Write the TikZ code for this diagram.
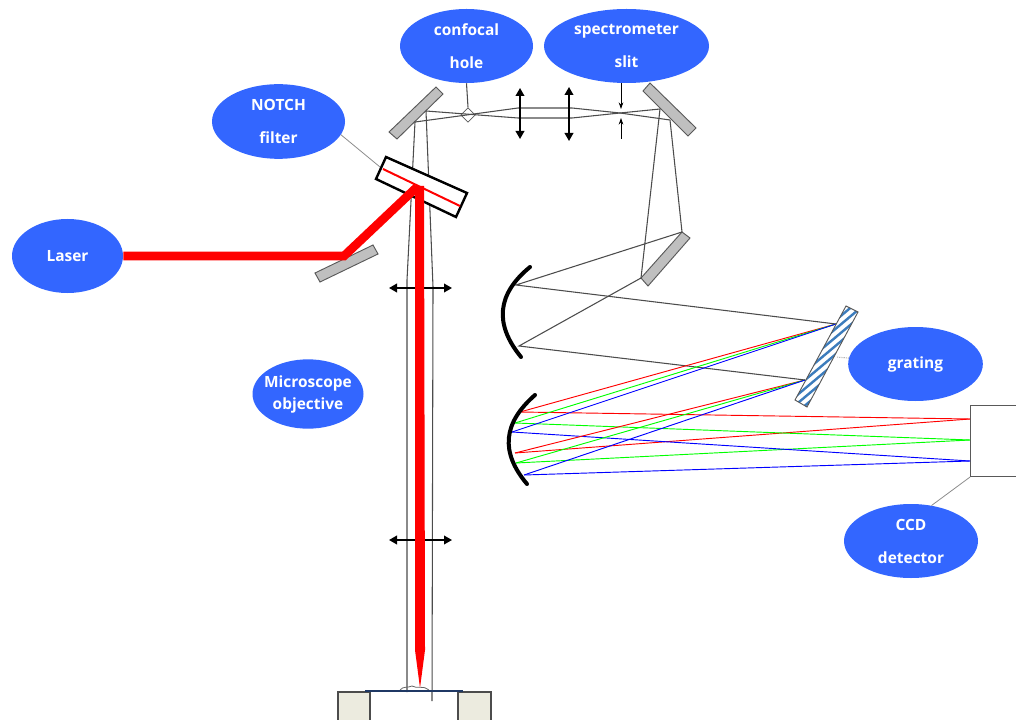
\documentclass[tikz,border=0pt]{standalone}
\usepackage{fontspec}
\setmainfont{Open Sans}
\usepackage{tikz}
\usetikzlibrary{arrows.meta,shapes.geometric}
\definecolor{tagblue}{HTML}{3366FF}
\definecolor{mirrorgray}{HTML}{BFBFBF}
\definecolor{stagebeige}{HTML}{ECEBDF}
\definecolor{slidenavy}{HTML}{1F3864}
\definecolor{gratingblue}{HTML}{3C7CBC}
\tikzset{
	tag/.style={ellipse,fill=tagblue,text=white,inner sep=0pt,align=center,font=\fontsize{11.6}{12}\bfseries},
	ray/.style={black!70,line width=0.8pt},
	leader/.style={black!45,line width=0.6pt},
	mirror/.style={draw=black!65,fill=mirrorgray,line width=0.7pt},
	lens/.style={{Triangle[length=6pt,width=6.5pt]}-{Triangle[length=6pt,width=6.5pt]},line width=1.2pt},
	slitarrow/.style={-{Stealth[length=5pt,width=3.5pt]},line width=0.6pt},
	beam/.style={red,line width=6.5pt},
	concave/.style={black,line width=3pt,line cap=round}
}
\begin{document}
\begin{tikzpicture}[x=0.75pt,y=-0.75pt]
	\useasboundingbox (0,0) rectangle (1016,720);
	\coordinate (mla) at (426,111);
	\coordinate (mlb) at (415,122);
	\coordinate (mra) at (660,109);
	\coordinate (mrb) at (670,120);
	\coordinate (foldt) at (682,232);
	\coordinate (foldb) at (641,278);
	\coordinate (colt) at (516,285);
	\coordinate (colb) at (519,346);
	\coordinate (grt) at (836,324);
	\coordinate (grb) at (805,380);
	\coordinate (lobl) at (407,280);
	\coordinate (lobr) at (433,287);
	\coordinate (sampl) at (407,692);
	\coordinate (sampr) at (432,701);
	\coordinate (ccdr) at (970,419);
	\coordinate (ccdg) at (970,440);
	\coordinate (ccdb) at (970,461);
	\coordinate (notchend) at (380,167);
	\coordinate (gratingend) at (836,357);
	\coordinate (slittop) at (621,83);
	\coordinate (slitup) at (621,109);
	\coordinate (slitlow) at (621,118);
	\coordinate (slitbot) at (621,139);

	\node[tag,minimum width=99.75pt,minimum height=55.5pt] (hole) at (466.5,46) {confocal\\[12.75pt]hole};
	\node[tag,minimum width=123.75pt,minimum height=55.5pt] (slit) at (626.5,46) {spectrometer\\[12.75pt]slit};
	\node[tag,minimum width=99.75pt,minimum height=56pt] (notch) at (278.5,121.5) {NOTCH\\[12.75pt]filter};
	\node[tag,minimum width=83.25pt,minimum height=55.5pt] (laser) at (67.5,256) {Laser};
	\node[tag,inner sep=-6pt,minimum width=83.25pt,minimum height=52pt] (objective) at (308,394) {Microscope\\[4.5pt]objective};
	\node[tag,minimum width=101pt,minimum height=55.5pt] (grating) at (915.5,364) {grating};
	\node[tag,minimum width=100.5pt,minimum height=55.5pt] (ccd) at (911,541) {CCD\\[12.75pt]detector};

	\node[draw=black!65,fill=white,diamond,minimum size=11pt,inner sep=0pt,line width=0.5pt] (pinhole) at (468,115) {};
	\node[draw=black!65,fill=white,anchor=north west,minimum width=45pt,minimum height=53.25pt,inner sep=0pt,line width=0.8pt] (detector) at (970,405) {};
	\draw[ray] (hole.south) -- (pinhole.north);
	\draw[leader] (notch.-12) -- (notchend);
	\draw[leader,densely dotted,line width=0.8pt] (grating.175) -- (gratingend);
	\draw[leader] (ccd.60) -- (detector.south west);

	\draw[mirror] (436,87) -- (443,94) -- (397,139) -- (389,132) -- cycle;
	\draw[mirror] (650,83) -- (643,91) -- (688,136) -- (696,128) -- cycle;
	\draw[mirror] (682,232) -- (690,238) -- (648,286) -- (641,278) -- cycle;
	\draw[mirror] (373,245) -- (378,254) -- (320,282) -- (315,273) -- cycle;

	\draw[ray] (mla) -- (518,118) -- (572,118) -- (620,113) -- (mrb);
	\draw[ray] (mlb) -- (518,108) -- (572,108) -- (620,113) -- (mra);
	\draw[ray] (mlb) -- (lobl) -- (sampl);
	\draw[ray] (mla) -- (lobr) -- (sampr);
	\draw[ray] (mra) -- (foldb) -- (colb) -- (grb);
	\draw[ray] (mrb) -- (foldt) -- (colt) -- (grt);

	\foreach \a / \b in {520/412,515/453} \draw[red,line width=0.7pt] (\a,\b) -- (ccdr);
	\foreach \a / \b in {515/423,516/463} \draw[green,line width=0.7pt] (\a,\b) -- (ccdg);
	\foreach \a / \b in {512/432,524/475} \draw[blue,line width=0.7pt] (\a,\b) -- (ccdb);
	\draw[red,line width=0.7pt] (grt) -- (520,412);
	\draw[green,line width=0.7pt] (grt) -- (515,423);
	\draw[blue,line width=0.7pt] (grt) -- (512,432);
	\draw[red,line width=0.7pt] (grb) -- (515,453);
	\draw[green,line width=0.7pt] (grb) -- (516,463);
	\draw[blue,line width=0.7pt] (grb) -- (524,475);

	\begin{scope}
		\clip (846,306) -- (858,312) -- (807,407) -- (795,400) -- cycle;
		\fill[white] (780,290) rectangle (870,420);
		\foreach \s in {0,...,10} \draw[gratingblue,line width=1.8pt] (780,{435-\s*8.5}) -- ++(90,-75.6);
	\end{scope}
	\draw[black!65,line width=0.7pt] (846,306) -- (858,312) -- (807,407) -- (795,400) -- cycle;

	\draw[concave] (530,267) .. controls (497,294) and (494,324) .. (521,357);
	\draw[concave] (535,395) .. controls (503,423) and (500,452) .. (527,484);

	\foreach \x / \a / \b in {520/88/139,569/87/141} \draw[lens] (\x,\a) -- (\x,\b);
	\foreach \y in {288,540} \draw[lens] (389,\y) -- (452,\y);
	\draw[slitarrow] (slittop) -- (slitup);
	\draw[slitarrow] (slitbot) -- (slitlow);

	\draw[draw=black,fill=white,line width=1.8pt] (386,157) -- (467,193) -- (456,217) -- (376,179) -- cycle;
	\draw[red,line width=1.5pt] (383,169) -- (460,206);
	\fill[red] (415,186) -- (424,186) -- (425,650) -- (420,688) -- (415,650) -- cycle;
	\draw[beam,line join=miter] (laser.east) -- (344,256) -- (417,187);

	\fill[stagebeige] (338,692) rectangle (370,720);
	\fill[stagebeige] (458,692) rectangle (491,720);
	\draw[black!70,line width=0.8pt] (338,720) -- (338,692) -- (370,692) -- (370,720);
	\draw[black!70,line width=0.8pt] (458,720) -- (458,692) -- (491,692) -- (491,720);
	\draw[black!60,line width=0.6pt] (400,690) .. controls (403,686) and (408,688) .. (412,686) .. controls (416,689) and (424,685) .. (429,690);
	\draw[slidenavy,line width=1.5pt] (365,691) -- (463,691);
\end{tikzpicture}
\end{document}
